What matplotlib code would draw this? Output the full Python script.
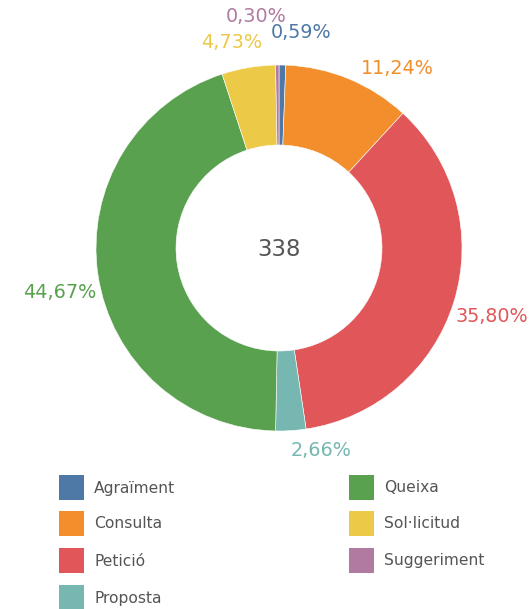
import matplotlib
matplotlib.use("Agg")
from matplotlib import pyplot as plt
from matplotlib.patches import Rectangle

# data
categories = ['Agraïment', 'Consulta', 'Petició', 'Proposta', 'Queixa', 'Sol·licitud', 'Suggeriment']
counts = [2, 38, 121, 9, 151, 16, 1]
pct_labels = ['0,59%', '11,24%', '35,80%', '2,66%', '44,67%', '4,73%', '0,30%']
colors = ['#4e79a7', '#f28e2b', '#e15759', '#76b7b2', '#59a14f', '#edc948', '#b07aa1']

W, H = 531, 609
TEXT = '#555555'


def py(y):
    # pixel row (top-down) -> data y (bottom-up)
    return H - y


fig = plt.figure(figsize=(W / 100, H / 100), dpi=100)
ax = fig.add_axes([0, 0, 1, 1])
ax.set_xlim(0, W)
ax.set_ylim(0, H)
ax.set_aspect('equal')
ax.axis('off')

ax.pie(counts, colors=colors, startangle=90, counterclock=False,
       center=(279, py(248)), radius=183,
       wedgeprops=dict(width=80, edgecolor='white', linewidth=0.4))
ax.set_xlim(0, W)
ax.set_ylim(0, H)

ax.text(279, py(249), str(sum(counts)), ha='center', va='center',
        fontsize=16.5, color=TEXT)

# label positions (pixel coords)
label_pos = [(301, 33), (397, 68), (492, 316), (321, 450), (60, 292), (232, 42), (256, 16)]
for (x, y), lab, c in zip(label_pos, pct_labels, colors):
    ax.text(x, py(y), lab, ha='center', va='center', fontsize=13.8, color=c)

# legend
col_x = [59, 349]
row_y = [488, 524, 561, 598]
for i, (cat, c) in enumerate(zip(categories, colors)):
    col = 0 if i < 4 else 1
    row = i if i < 4 else i - 4
    x0 = col_x[col]
    yc = row_y[row]
    ax.add_patch(Rectangle((x0, py(yc + 12)), 25, 25, color=c, lw=0))
    ax.text(x0 + 35, py(yc), cat, ha='left', va='center', fontsize=11.2, color=TEXT)

fig.savefig('out.png', dpi=100)
